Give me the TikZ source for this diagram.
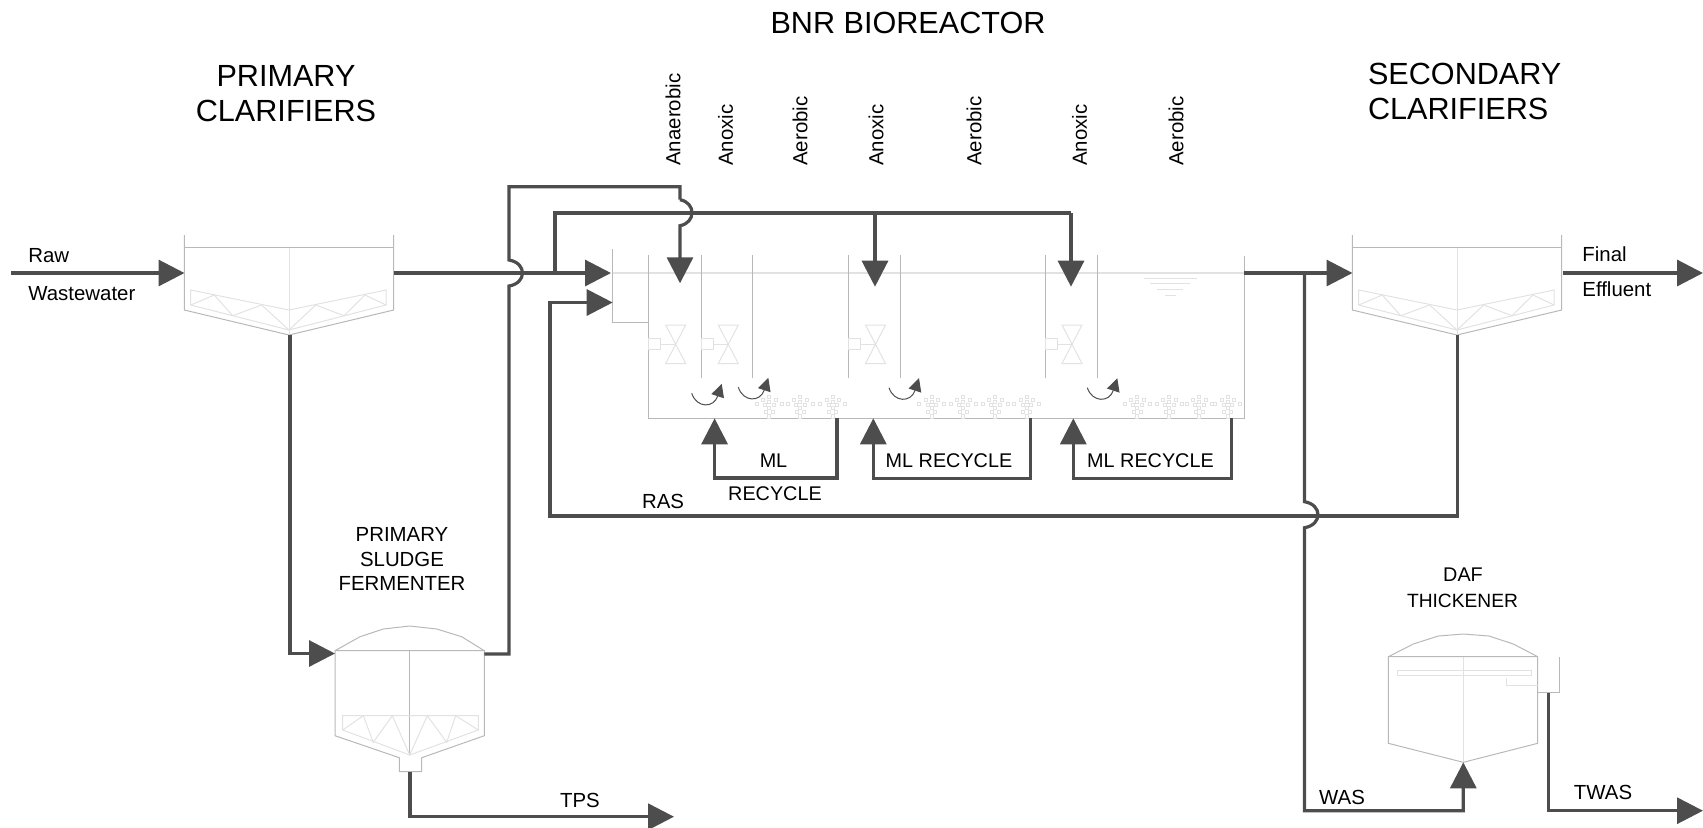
\documentclass[tikz,border=0pt]{standalone}
\usepackage{fontspec}
\setmainfont{Liberation Sans}
\usetikzlibrary{arrows.meta,positioning}
\definecolor{flowgray}{HTML}{4D4D4D}
\definecolor{tankgray}{HTML}{B8B8B8}
\definecolor{palegray}{HTML}{E2E2E2}

\newcommand{\mixer}[2]{%
  \draw[pale] (#1,338.5) rectangle ++(12,11);
  \draw[pale] (#1+12,344) -- (#2,344);
  \draw[pale] (#2-10,325) -- (#2+10,325) -- (#2-10,363.5) -- (#2+10,363.5) -- cycle;
}
\newcommand{\diffuser}[1]{%
  \foreach \dx/\dy in {0/396.7,0/402,-6/400,6.5/400,-12.5/404,12.5/404,-4/405,4.5/405,0/408,-3.5/412,3.5/412}
    \draw[pale] (#1+\dx-1.5,\dy-1.5) rectangle ++(3,3);
  \draw[pale] (#1-1.5,414) rectangle ++(3,4);
}

\begin{document}
\begin{tikzpicture}[
  x=0.5pt,y=-0.5pt,
  font=\fontsize{10.2}{12.2}\selectfont,
  title/.style={font=\fontsize{15.3}{17.5}\selectfont,align=center},
  lbl/.style={align=center,inner sep=0pt},
  mltag/.style={lbl,font=\fontsize{9.9}{12}\selectfont},
  zone/.style={rotate=90,anchor=west,inner sep=0pt},
  tank/.style={draw=tankgray,line width=0.5pt},
  pale/.style={draw=palegray,line width=0.5pt},
  flow/.style={draw=flowgray,line width=1.6pt},
  arr/.style={flow,-{Triangle[length=13pt,width=13pt]}},
  curl/.style={draw=flowgray,line width=0.5pt,-{Triangle[length=6.5pt,width=6.5pt]}}
]
\useasboundingbox (0,0) rectangle (1703,827);

\coordinate (rawin) at (11,273);
\coordinate (pcin) at (184.5,273);
\coordinate (pcout) at (393.7,273);
\coordinate (pcbot) at (290,335);
\coordinate (bnrin) at (611,273);
\coordinate (rasin) at (612.7,302.5);
\coordinate (fermin) at (335,653.5);
\coordinate (fermout) at (484.3,654);
\coordinate (fermbot) at (410,771.7);
\coordinate (tpsend) at (674,816.7);
\coordinate (fbumpa) at (509,286);
\coordinate (fbumpb) at (509,260);
\coordinate (ftopl) at (509,186.7);
\coordinate (ftopr) at (680,186.7);
\coordinate (fbumpc) at (680,199.7);
\coordinate (fbumpd) at (680,225.7);
\coordinate (anaertip) at (680,283.3);
\coordinate (stepj) at (555,273);
\coordinate (stepa) at (875,213);
\coordinate (stepb) at (1071,213);
\coordinate (anoxa) at (875,286.7);
\coordinate (anoxb) at (1071,286.7);
\coordinate (bnrout) at (1244.3,273);
\coordinate (scin) at (1352.5,273);
\coordinate (scout) at (1562.7,273);
\coordinate (finalend) at (1703,273);
\coordinate (scbot) at (1457.5,335);
\coordinate (rasl) at (550,516);
\coordinate (wasj) at (1304.5,273);
\coordinate (wbumpa) at (1304.5,501.7);
\coordinate (wbumpb) at (1304.5,527.7);
\coordinate (wasb) at (1304.5,810.7);
\coordinate (daftip) at (1463.3,762.3);
\coordinate (dafout) at (1548.3,692.7);
\coordinate (twasend) at (1703,810.7);
\coordinate (mla) at (837,418.3);
\coordinate (mlb) at (714.6,418.3);
\coordinate (mlc) at (1030.7,418.3);
\coordinate (mld) at (873.3,418.3);
\coordinate (mle) at (1231.7,418.3);
\coordinate (mlf) at (1073.3,418.3);

\foreach \sx in {0,1168}{
  \begin{scope}[shift={(\sx,0)}]
    \draw[tank] (184.3,235) -- (184.3,310) -- (289,335) -- (393.7,310) -- (393.7,235);
    \draw[tank] (184.3,247.7) -- (393.7,247.7);
    \draw[pale] (289,247.7) -- (289,335);
    \draw[pale] (190.7,290) -- (289,310) -- (386,290) -- (386,305) -- (289,330) -- (190.7,305) -- cycle;
    \draw[pale] (190.7,305) -- (214.3,295) -- (232.7,315.7) -- (261.7,305) -- (289,330) -- (315.7,305) -- (344,315.7) -- (365,295) -- (386,305);
  \end{scope}
}

\draw[tank] (335,650.7) -- (335,735.7) -- (399.3,757.7) -- (399.3,771.7) -- (421.7,771.7) -- (421.7,757.7) -- (484.3,735.7) -- (484.3,650.7) -- cycle;
\draw[tank] (335,650.7) -- (360,636.7) -- (383.3,629) -- (409.7,626) -- (436.7,629) -- (461.7,636.7) -- (484.3,650.7);
\draw[tank] (409.7,650.7) -- (409.7,755);
\draw[pale] (342.7,715.7) -- (478.3,715.7) -- (478.3,730) -- (409.7,755) -- (342.7,730) -- cycle;
\draw[pale] (342.7,730) -- (363.3,715.7) -- (373.3,742.3) -- (392.3,715.7) -- (409.7,755) -- (427.3,715.7) -- (446.7,742.3) -- (455.7,715.7) -- (478.3,730);

\draw[tank] (1388.3,656.7) -- (1388.3,743.3) -- (1463.3,762.3) -- (1537.7,743.3) -- (1537.7,656.7) -- cycle;
\draw[tank] (1388.3,656.7) -- (1413.3,644) -- (1438.3,636) -- (1463.3,634) -- (1489,636) -- (1513.3,644) -- (1537.7,656.7);
\draw[pale] (1463.3,656.7) -- (1463.3,762.3);
\draw[pale] (1397.3,670) rectangle (1531.7,675.7);
\draw[pale] (1506.7,678.3) -- (1506.7,685) -- (1537.7,685);
\draw[tank] (1537.7,692.7) -- (1559,692.7) -- (1559,656.7);

\draw[pale,line width=0.8pt] (612.3,272.7) -- (1244.3,272.7);
\draw[tank] (612.3,249) -- (612.3,322.3) -- (648.3,322.3);
\draw[tank] (648.3,255) -- (648.3,418.3) -- (1244.3,418.3) -- (1244.3,255.5);
\foreach \bx in {701.7,752.3,848.3,900,1045.7,1097.7}
  \draw[tank] (\bx,255) -- (\bx,378.3);
\draw[pale] (1144,278.3) -- (1196.7,278.3);
\draw[pale] (1150,283.3) -- (1190,283.3);
\draw[pale] (1157.3,289) -- (1183.3,289);
\draw[pale] (1165,295.7) -- (1175.7,295.7);

\mixer{648.3}{675.7}
\mixer{701.7}{728.3}
\mixer{848.3}{875.5}
\mixer{1045.7}{1072}
\foreach \cx in {769.3,800,832.7,931.7,963.3,995,1026.7,1137.3,1169,1199.3,1227.7}{
  \diffuser{\cx}
}

\foreach \mx/\my in {691.7/393.3,738.3/387.3,889/387.7,1087.3/387.7}
  \draw[curl] (\mx,\my) .. controls (\mx+5,\my+15) and (\mx+22,\my+15) .. (\mx+30,\my-9.5);

\draw[arr] (rawin) -- (pcin);
\draw[arr] (pcout) -- (bnrin);
\draw[arr] (pcbot) |- (fermin);
\draw[arr] (fermbot) |- (tpsend);
\draw[flow] (fermout) -| (fbumpa) .. controls +(18,-3) and +(18,3) .. (fbumpb) -- (ftopl) -- (ftopr) -- (fbumpc);
\draw[arr] (fbumpc) .. controls +(16,3) and +(16,-3) .. (fbumpd) -- (anaertip);
\draw[flow] (stepj) |- (stepb);
\draw[arr] (stepa) -- (anoxa);
\draw[arr] (stepb) -- (anoxb);
\draw[arr] (bnrout) -- (scin);
\draw[arr] (scout) -- (finalend);
\draw[arr] (scbot) |- (rasl) |- (rasin);
\draw[arr] (wasj) -- (wbumpa) .. controls +(18,3) and +(18,-3) .. (wbumpb) -- (wasb) -| (daftip);
\draw[arr] (dafout) |- (twasend);
\draw[arr] (mla) |- (714.6,478) -- (mlb);
\draw[arr] (mlc) |- (873.3,478.3) -- (mld);
\draw[arr] (mle) |- (1073.3,478.3) -- (mlf);

\node[title] (bnrtitle) at (908,23) {BNR BIOREACTOR};
\node[title] (pctitle) at (286,94) {PRIMARY\\CLARIFIERS};
\node[title,align=left,anchor=west] (sctitle) at (1361,91) {SECONDARY\\CLARIFIERS};
\node[zone] (zonea) at (673,166) {Anaerobic};
\node[zone] (zoneb) at (725.6,166) {Anoxic};
\node[zone] (zonec) at (800,166) {Aerobic};
\node[zone] (zoned) at (876,166) {Anoxic};
\node[zone] (zonee) at (974,166) {Aerobic};
\node[zone] (zonef) at (1079.6,166) {Anoxic};
\node[zone] (zoneg) at (1176,166) {Aerobic};
\node[lbl,anchor=west] (raw) at (28,256) {Raw};
\node[lbl,anchor=west] (wastewater) at (28,294) {Wastewater};
\node[lbl,anchor=west] (final) at (1582,254) {Final};
\node[lbl,anchor=west] (effluent) at (1582,289) {Effluent};
\node[mltag] (mltext) at (773.5,460.5) {ML};
\node[mltag] (recycle) at (775,493.5) {RECYCLE};
\node[mltag] (mltwo) at (949,460.5) {ML RECYCLE};
\node[mltag] (mlthree) at (1150.5,460.5) {ML RECYCLE};
\node[lbl] (ras) at (663,501) {RAS};
\node[lbl] (fermtext) at (402,559) {PRIMARY\\SLUDGE\\FERMENTER};
\node[mltag] (daftext) at (1463,575) {DAF};
\node[mltag,font=\fontsize{9.6}{12}\selectfont] (thick) at (1462.5,601) {THICKENER};
\node[lbl] (was) at (1342,797) {WAS};
\node[lbl] (tps) at (580,800) {TPS};
\node[lbl] (twas) at (1603,792) {TWAS};
\end{tikzpicture}
\end{document}
